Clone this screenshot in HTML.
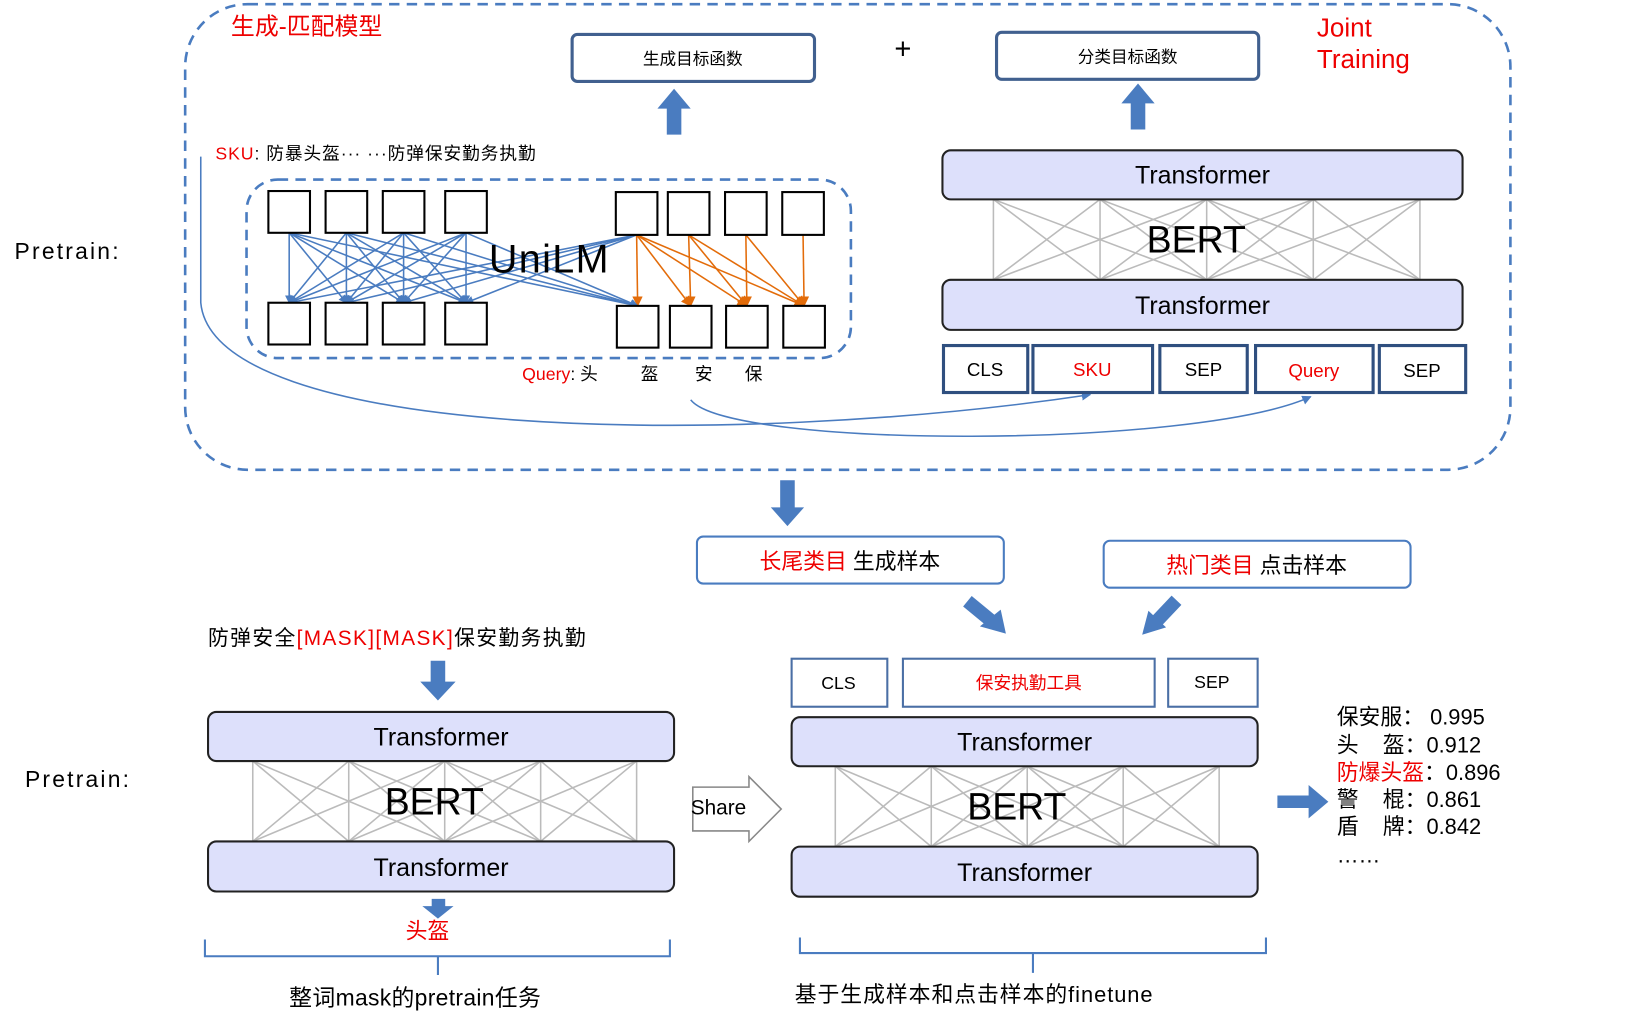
<!DOCTYPE html>
<html><head><meta charset="utf-8"><style>
html,body{margin:0;padding:0;background:#fff;}
svg{display:block;}
text{font-family:"Liberation Sans","Noto Sans CJK SC",sans-serif;}
</style></head><body>
<svg id="s" width="1629" height="1022" viewBox="0 0 1566 979" preserveAspectRatio="none" xmlns="http://www.w3.org/2000/svg">
<defs>
<marker id="ab" markerWidth="8" markerHeight="8" refX="7" refY="4" orient="auto" markerUnits="userSpaceOnUse"><path d="M0,0 L8,4 L0,8 z" fill="#4a7cc0"/></marker>
<marker id="ao" markerWidth="10" markerHeight="10" refX="9" refY="5" orient="auto" markerUnits="userSpaceOnUse"><path d="M0,0 L10,5 L0,10 z" fill="#e36c0a"/></marker>
<marker id="ac" markerWidth="9" markerHeight="9" refX="8" refY="4.5" orient="auto" markerUnits="userSpaceOnUse"><path d="M0,0 L9,4.5 L0,9 z" fill="#4a7cc0"/></marker>
</defs>
<rect x="178" y="4" width="1274" height="446" rx="60" fill="none" stroke="#4a7cc0" stroke-width="2.5" stroke-dasharray="10,7"/>
<text x="222" y="33" font-size="23" fill="#e00">生成-匹配模型</text>
<text x="1266" y="35" font-size="25" fill="#e00">Joint</text>
<text x="1266" y="65" font-size="25" fill="#e00">Training</text>
<rect x="550" y="33" width="233" height="45" rx="5" fill="#fff" stroke="#41608f" stroke-width="3"/>
<text x="666" y="62" font-size="16" text-anchor="middle">生成目标函数</text>
<text x="868" y="56" font-size="28" text-anchor="middle">+</text>
<rect x="958" y="31" width="252" height="45" rx="5" fill="#fff" stroke="#41608f" stroke-width="3"/>
<text x="1084" y="60" font-size="16" text-anchor="middle">分类目标函数</text>
<path d="M641,129 L641,104 L632,104 L648,85 L664,104 L655,104 L655,129 z" fill="#4a7cc0"/>
<path d="M1087,124 L1087,99 L1078,99 L1094,80 L1110,99 L1101,99 L1101,124 z" fill="#4a7cc0"/>
<text x="14" y="248" font-size="22" textLength="100">Pretrain:</text>
<text x="207" y="153" font-size="17" textLength="308"><tspan fill="#e00">SKU</tspan>: 防暴头盔··· ···防弹保安勤务执勤</text>
<rect x="237" y="172" width="581" height="171" rx="30" fill="none" stroke="#4a7cc0" stroke-width="2.5" stroke-dasharray="10,7"/>
<g id="unilm"></g>
<text x="470" y="261" font-size="38" textLength="115">UniLM</text>
<text x="502" y="364" font-size="17"><tspan fill="#e00">Query</tspan>: 头</text>
<text x="616" y="364" font-size="17">盔</text>
<text x="668" y="364" font-size="17">安</text>
<text x="716" y="364" font-size="17">保</text>
<path d="M193,150 L193,290 C205,420 700,430 1048,378" fill="none" stroke="#4a7cc0" stroke-width="1.5" marker-end="url(#ac)"/>
<path d="M664,383 C700,430 1150,430 1260,380" fill="none" stroke="#4a7cc0" stroke-width="1.5" marker-end="url(#ac)"/>
<g id="b1"></g>
<g fill="#fff" stroke="#2f4f7f" stroke-width="3">
<rect x="907" y="331" width="81" height="45"/><rect x="993" y="331" width="115" height="45"/><rect x="1115" y="331" width="84" height="45"/><rect x="1207" y="331" width="113" height="45"/><rect x="1326" y="331" width="83" height="45"/>
</g>
<g font-size="18" text-anchor="middle">
<text x="947" y="360">CLS</text><text x="1050" y="360" fill="#e00">SKU</text><text x="1157" y="360">SEP</text><text x="1263" y="361" fill="#e00">Query</text><text x="1367" y="361">SEP</text>
</g>
<path d="M750,460 L764,460 L764,486 L773,486 L757,504 L741,486 L750,486 z" fill="#4a7cc0"/>
<rect x="670" y="514" width="295" height="45" rx="6" fill="#fff" stroke="#4a7cc0" stroke-width="2"/>
<text x="817" y="545" font-size="21" text-anchor="middle"><tspan fill="#e00">长尾类目</tspan> 生成样本</text>
<rect x="1061" y="518" width="295" height="45" rx="6" fill="#fff" stroke="#4a7cc0" stroke-width="2"/>
<text x="1208" y="549" font-size="21" text-anchor="middle"><tspan fill="#e00">热门类目</tspan> 点击样本</text>
<line x1="930" y1="576" x2="952" y2="594" stroke="#4a7cc0" stroke-width="13"/>
<path d="M942,600 L967,607 L962,584 z" fill="#4a7cc0"/>
<line x1="1131" y1="575" x2="1112" y2="595" stroke="#4a7cc0" stroke-width="13"/>
<path d="M1121,601 L1098,608 L1104,585 z" fill="#4a7cc0"/>
<text x="200" y="618" font-size="20" textLength="363"><tspan>防弹安全</tspan><tspan fill="#e00">[MASK][MASK]</tspan><tspan>保安勤务执勤</tspan></text>
<path d="M414,633 L428,633 L428,653 L438,653 L421,671 L404,653 L414,653 z" fill="#4a7cc0"/>
<g id="b2"></g>
<text x="24" y="754" font-size="22" textLength="100">Pretrain:</text>
<path d="M415,861 L428,861 L428,868 L436,868 L421,880 L406,868 L415,868 z" fill="#4a7cc0"/>
<text x="411" y="899" font-size="21" fill="#e00" text-anchor="middle">头盔</text>
<path d="M197,900 L197,916 L421,916 L421,934 M421,916 L644,916 L644,900" fill="none" stroke="#4a7cc0" stroke-width="2"/>
<text x="278" y="963" font-size="22" textLength="242">整词mask的pretrain任务</text>
<path d="M666,754 L720,754 L720,744 L751,775 L720,806 L720,796 L666,796 z" fill="#fff" stroke="#888" stroke-width="1.5"/>
<text x="664" y="780" font-size="20">Share</text>
<g fill="#fff" stroke="#4a6fa5" stroke-width="2">
<rect x="761" y="631" width="92" height="46"/><rect x="868" y="631" width="242" height="46"/><rect x="1123" y="631" width="86" height="46"/>
</g>
<g font-size="17" text-anchor="middle">
<text x="806" y="660">CLS</text><text x="989" y="660" fill="#e00">保安执勤工具</text><text x="1165" y="659">SEP</text>
</g>
<g id="b3"></g>
<path d="M769,898 L769,913 L993,913 L993,932 M993,913 L1217,913 L1217,898" fill="none" stroke="#4a7cc0" stroke-width="2"/>
<text x="764" y="960" font-size="21" textLength="344">基于生成样本和点击样本的finetune</text>
<path d="M1228,762 L1258,762 L1258,752 L1277,768 L1258,784 L1258,774 L1228,774 z" fill="#4a7cc0"/>
<g font-size="21">
<text x="1285" y="694">保安服： 0.995</text>
<text x="1285" y="721">头&#160;&#160;&#160;&#160;盔：0.912</text>
<text x="1285" y="747"><tspan fill="#e00">防爆头盔</tspan>：0.896</text>
<text x="1285" y="773">警&#160;&#160;&#160;&#160;棍：0.861</text>
<text x="1285" y="799">盾&#160;&#160;&#160;&#160;牌：0.842</text>
<text x="1285" y="826">……</text>
</g>
</svg>
<script>
var NS="http://www.w3.org/2000/svg";
function el(p,t,a){var e=document.createElementNS(NS,t);for(var k in a)e.setAttribute(k,a[k]);p.appendChild(e);return e;}
function bert(id,x,y,w,mx1,mx2){
 var g=document.getElementById(id);
 var my1=y+47,my2=y+124;
 var n=4,pts=[];for(var i=0;i<=n;i++)pts.push(mx1+(mx2-mx1)*i/n);
 for(var i=0;i<=n;i++)for(var j=0;j<=n;j++){if(Math.abs(i-j)<=2)el(g,'line',{x1:pts[i],y1:my1,x2:pts[j],y2:my2,stroke:'#bbb','stroke-width':1.5});}
 el(g,'rect',{x:x,y:y,width:w,height:47,rx:8,fill:'#dde0fb',stroke:'#222','stroke-width':2});
 el(g,'rect',{x:x,y:my2,width:w,height:48,rx:8,fill:'#dde0fb',stroke:'#222','stroke-width':2});
 var t=el(g,'text',{x:x+w/2,y:y+32,'font-size':24,'text-anchor':'middle'});t.textContent='Transformer';
 t=el(g,'text',{x:x+w/2,y:my2+33,'font-size':24,'text-anchor':'middle'});t.textContent='Transformer';
 t=el(g,'text',{x:(mx1+mx2)/2-10,y:y+98,'font-size':36,'text-anchor':'middle'});t.textContent='BERT';
}
bert('b1',906,144,500,955,1365);
bert('b2',200,682,448,243,612);
bert('b3',761,687,448,803,1172);
var g=document.getElementById('unilm');
var tl=[258,313,368,428],tr=[592,642,697,752],br=[593,644,698,753];
for(var i=0;i<4;i++){
 for(var j=0;j<4;j++)el(g,'line',{x1:tl[i]+20,y1:223,x2:tl[j]+20,y2:290,stroke:'#4a7cc0','stroke-width':1.5,'marker-end':'url(#ab)'});
 el(g,'line',{x1:tl[i]+20,y1:223,x2:br[0]+20,y2:293,stroke:'#4a7cc0','stroke-width':1.5,'marker-end':'url(#ab)'});
 el(g,'line',{x1:tr[0]+20,y1:225,x2:tl[i]+20,y2:290,stroke:'#4a7cc0','stroke-width':1.5,'marker-end':'url(#ab)'});
 for(var j=i;j<4;j++)el(g,'line',{x1:tr[i]+20,y1:225,x2:br[j]+20,y2:293,stroke:'#e36c0a','stroke-width':1.5,'marker-end':'url(#ao)'});
}
for(var i=0;i<4;i++){
 el(g,'rect',{x:tl[i],y:183,width:40,height:40,fill:'#fff',stroke:'#000','stroke-width':2});
 el(g,'rect',{x:tl[i],y:290,width:40,height:40,fill:'#fff',stroke:'#000','stroke-width':2});
 el(g,'rect',{x:tr[i],y:184,width:40,height:41,fill:'#fff',stroke:'#000','stroke-width':2});
 el(g,'rect',{x:br[i],y:293,width:40,height:40,fill:'#fff',stroke:'#000','stroke-width':2});
}
</script>
</body></html>
